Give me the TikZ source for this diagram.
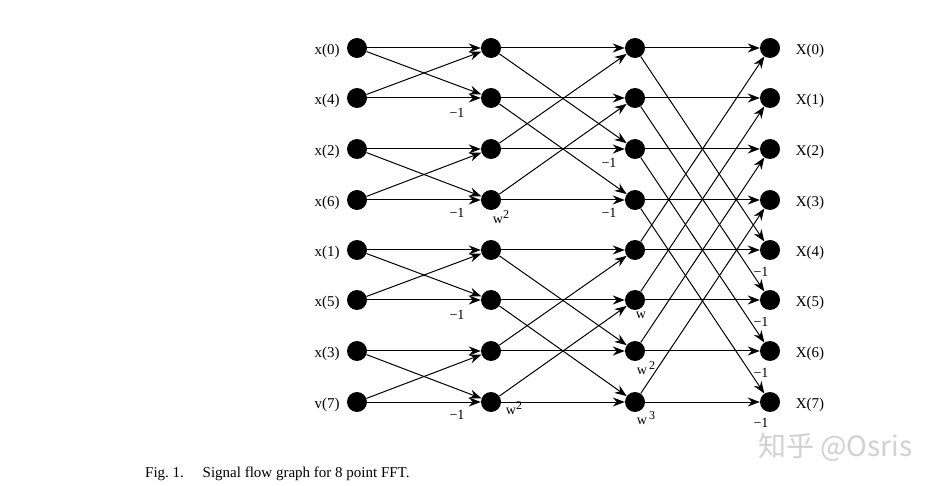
\documentclass[tikz,border=0pt]{standalone}
\usepackage{fontspec}
\setmainfont{Liberation Serif}
\newfontfamily\cjkfont{Noto Sans CJK SC}
\usetikzlibrary{arrows.meta}
\newcommand{\supr}[1]{\raisebox{5pt}{\fontsize{12}{12}\selectfont #1}}
\begin{document}
\begin{tikzpicture}[x=1pt,y=-1pt,
  dot/.style={circle,fill=black,minimum size=20pt,inner sep=0pt},
  flow/.style={-{Stealth[length=12pt,width=9pt]}, line width=1pt},
  lbl/.style={font=\fontsize{15}{15}\selectfont, inner sep=0pt},
  wt/.style={font=\fontsize{14}{14}\selectfont, inner sep=0pt}]
\useasboundingbox[fill=white] (0,0) rectangle (940,486);
% nodes
\foreach \c/\x in {0/357,1/491,2/635,3/770}{
  \foreach \r/\y in {0/48,1/98,2/149,3/200,4/250,5/300,6/351,7/402}{
    \node[dot] (n\c-\r) at (\x,\y) {};
  }
}
% edges
\foreach \s/\d in {0/1,1/2,2/4}{
  \pgfmathtruncatemacro{\t}{\s+1}
  \foreach \i in {0,...,7}{
    \pgfmathtruncatemacro{\j}{mod(\i,2*\d)<\d ? \i+\d : \i-\d}
    \draw[flow] (n\s-\i) -- (n\t-\i);
    \draw[flow] (n\s-\i) -- (n\t-\j);
  }
}
% input labels
\foreach \r/\y/\t in {0/51/x(0),1/101/x(4),2/152/x(2),3/203/x(6),4/253/x(1),5/303/x(5),6/354/x(3),7/405/v(7)}{
  \node[lbl] (in\r) at (327,\y) {\t};
}
% output labels
\foreach \r/\y in {0/51,1/101,2/152,3/203,4/253,5/303,6/354,7/405}{
  \node[lbl] (out\r) at (810,\y) {X(\r)};
}
% weights
\node[wt] (m1) at (457,113) {−1};
\node[wt] (m2) at (457,213) {−1};
\node[wt] (m3) at (457,315) {−1};
\node[wt] (m4) at (457,415) {−1};
\node[wt] (w1) at (501,217) {w\supr{2}};
\node[wt] (w2) at (514,408) {w\supr{2}};
\node[wt] (m5) at (609,163) {−1};
\node[wt] (m6) at (609,213) {−1};
\node[wt] (w3) at (641,315) {w};
\node[wt] (w4) at (646,368) {w\,\supr{2}};
\node[wt] (w5) at (646,418) {w\,\supr{3}};
\node[wt] (m7) at (761,272) {−1};
\node[wt] (m8) at (761,322) {−1};
\node[wt] (m9) at (761,373) {−1};
\node[wt] (m10) at (761,423) {−1};
% caption
\node[anchor=west, font=\fontsize{15}{15}\selectfont, inner sep=0pt] (cap) at (145,474) {Fig.\ 1.\quad\ Signal flow graph for 8 point FFT.};
% watermark
\node[anchor=west, font=\cjkfont\fontsize{28}{28}\selectfont, text=black!18, inner sep=0pt] (wm) at (758,447) {知乎 @Osris};
\end{tikzpicture}
\end{document}
